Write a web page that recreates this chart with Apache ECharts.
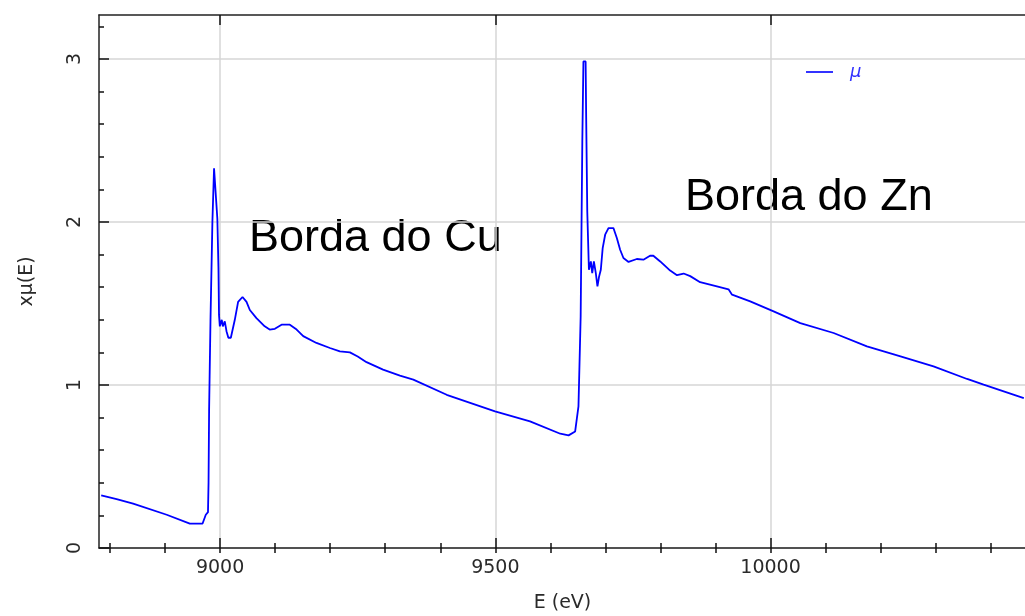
<!DOCTYPE html>
<html>
<head>
<meta charset="utf-8">
<script src="https://cdn.jsdelivr.net/npm/echarts@6/dist/echarts.min.js"></script>
<style>
html,body{margin:0;padding:0;background:#fff;}
#chart{width:1025px;height:616px;}
</style>
</head>
<body>
<div id="chart"></div>
<script>
// Energy (eV) and x·mu(E)
const energy = [8784, 8812, 8842, 8903, 8945, 8968, 8970, 8974, 8978, 8979, 8980, 8982.5, 8986, 8989, 8992,
  8995, 8997, 8998, 8999.5, 9003, 9005, 9008.5, 9011.6, 9015, 9019.5, 9026.7, 9032.7, 9040.7, 9048, 9054,
  9066, 9081, 9090, 9099.5, 9111.6, 9126.7, 9139, 9151, 9175, 9199.5, 9217.6, 9235.8, 9250, 9266, 9296,
  9326.7, 9351, 9411.6, 9499.5, 9563, 9618, 9633, 9645, 9648, 9651, 9655, 9658, 9660, 9664, 9665, 9667,
  9670, 9673.5, 9676, 9679, 9682.5, 9685.5, 9688.5, 9691.6, 9695, 9699.5, 9705.5, 9714.5, 9720.7, 9726.7,
  9732.7, 9742, 9757, 9769, 9781, 9787, 9799.5, 9817.6, 9830, 9842, 9854, 9872, 9902.5, 9923.6, 9930,
  9963, 10005.5, 10054, 10114.5, 10175, 10236, 10296, 10357, 10387, 10460];
const xmu = [0.323, 0.300, 0.272, 0.204, 0.149, 0.149, 0.160, 0.204, 0.22, 0.40, 0.84, 1.39, 2.00, 2.33, 2.33,
  2.02, 1.72, 1.43, 1.36, 1.40, 1.36, 1.39, 1.33, 1.29, 1.29, 1.40, 1.51, 1.54, 1.51, 1.46,
  1.41, 1.36, 1.34, 1.345, 1.37, 1.37, 1.34, 1.30, 1.258, 1.227, 1.206, 1.20, 1.175, 1.14, 1.094,
  1.057, 1.033, 0.94, 0.838, 0.777, 0.701, 0.691, 0.715, 0.726, 0.869, 1.42, 2.494, 2.985, 2.985, 2.644, 2.065,
  1.707, 1.758, 1.687, 1.758, 1.687, 1.605, 1.666, 1.707, 1.84, 1.922, 1.963, 1.963, 1.902, 1.83,
  1.779, 1.755, 1.773, 1.769, 1.793, 1.793, 1.758, 1.702, 1.674, 1.684, 1.668, 1.631, 1.605, 1.587, 1.554,
  1.513, 1.452, 1.38, 1.319, 1.237, 1.175, 1.114, 1.037, 1.002, 0.92];

const xMajorTicks = [9000, 9500, 10000];
const xMinorTicks = [8800, 8900, 9000, 9100, 9200, 9300, 9400, 9500, 9600, 9700, 9800, 9900, 10000, 10100, 10200, 10300, 10400];
const yMajorTicks = [0, 1, 2, 3];
const yMinorTicks = [0, 0.2, 0.4, 0.6, 0.8, 1, 1.2, 1.4, 1.6, 1.8, 2, 2.2, 2.4, 2.6, 2.8, 3, 3.2];
const seriesName = 'μ';
const xName = 'E (eV)';
const yName = 'xμ(E)';
const notes = ['Borda do Cu', 'Borda do Zn'];

const X_MIN = 8780, X_MAX = 10464, Y_MIN = 0, Y_MAX = 3.27;
const axisLineStyle = { color: '#222', width: 1.5 };
const labelFont = { color: '#2a2a2a', fontFamily: 'DejaVu Sans', fontSize: 19 };

function xAx(pos, ticks, len, opts) {
  return Object.assign({
    type: 'value', position: pos, min: X_MIN, max: X_MAX,
    axisLine: { show: true, lineStyle: axisLineStyle, onZero: false },
    axisTick: { show: true, inside: true, length: len, customValues: ticks, lineStyle: { color: '#111', width: 1.5 } },
    axisLabel: { show: false },
    splitLine: { show: false }
  }, opts || {});
}
function yAx(ticks, len, opts) {
  return Object.assign({
    type: 'value', position: 'left', min: Y_MIN, max: Y_MAX,
    axisLine: { show: true, lineStyle: axisLineStyle, onZero: false },
    axisTick: { show: true, inside: true, length: len, customValues: ticks, lineStyle: { color: '#111', width: 1.5 } },
    axisLabel: { show: false },
    splitLine: { show: false }
  }, opts || {});
}

const data = energy.map((e, i) => [e, xmu[i]]);
const plain = v => String(v);

const option = {
  animation: false,
  backgroundColor: '#fff',
  grid: { left: 99, right: -1, top: 15, bottom: 68, containLabel: false, outerBoundsMode: 'none' },
  legend: {
    left: 801, top: 58,
    data: [{ name: seriesName, icon: 'rect' }],
    itemWidth: 27, itemHeight: 2,
    textStyle: { color: '#3333ff', fontStyle: 'italic', fontFamily: 'DejaVu Sans', fontSize: 18, padding: [22, 0, 0, 12] }
  },
  xAxis: [
    xAx('bottom', xMajorTicks, 10, {
      name: xName, nameLocation: 'middle', nameGap: 46,
      nameTextStyle: labelFont,
      axisLabel: Object.assign({ show: true, margin: 11, customValues: xMajorTicks, formatter: plain }, labelFont),
      splitLine: { show: true, lineStyle: { color: '#d6d6d6', width: 1.5 } }
    }),
    xAx('bottom', xMinorTicks, 5, { axisLine: { show: false } }),
    xAx('top', xMajorTicks, 10),
    xAx('top', xMinorTicks, 5, { axisLine: { show: false } })
  ],
  yAxis: [
    yAx(yMajorTicks, 10, {
      name: yName, nameLocation: 'middle', nameGap: 62,
      nameTextStyle: labelFont,
      axisLabel: Object.assign({ show: true, margin: 14, rotate: 90, customValues: yMajorTicks, formatter: plain }, labelFont),
      splitLine: { show: true, lineStyle: { color: '#d6d6d6', width: 1.5 } }
    }),
    yAx(yMinorTicks, 5, { axisLine: { show: false } })
  ],
  series: [{
    name: seriesName, type: 'line', data: data,
    xAxisIndex: 0, yAxisIndex: 0,
    showSymbol: false, symbol: 'none',
    lineStyle: { color: '#0000ff', width: 1.8 },
    itemStyle: { color: '#3333ff' },
    z: 3
  }],
  graphic: [
    { type: 'text', left: 249, top: 216, style: { text: notes[0], font: '45px "Liberation Sans", Arial, sans-serif', fill: '#000' } },
    { type: 'text', left: 685, top: 175, style: { text: notes[1], font: '45px "Liberation Sans", Arial, sans-serif', fill: '#000' } }
  ]
};

const chart = echarts.init(document.getElementById('chart'), null, { renderer: 'canvas' });
chart.setOption(option);
</script>
</body>
</html>
